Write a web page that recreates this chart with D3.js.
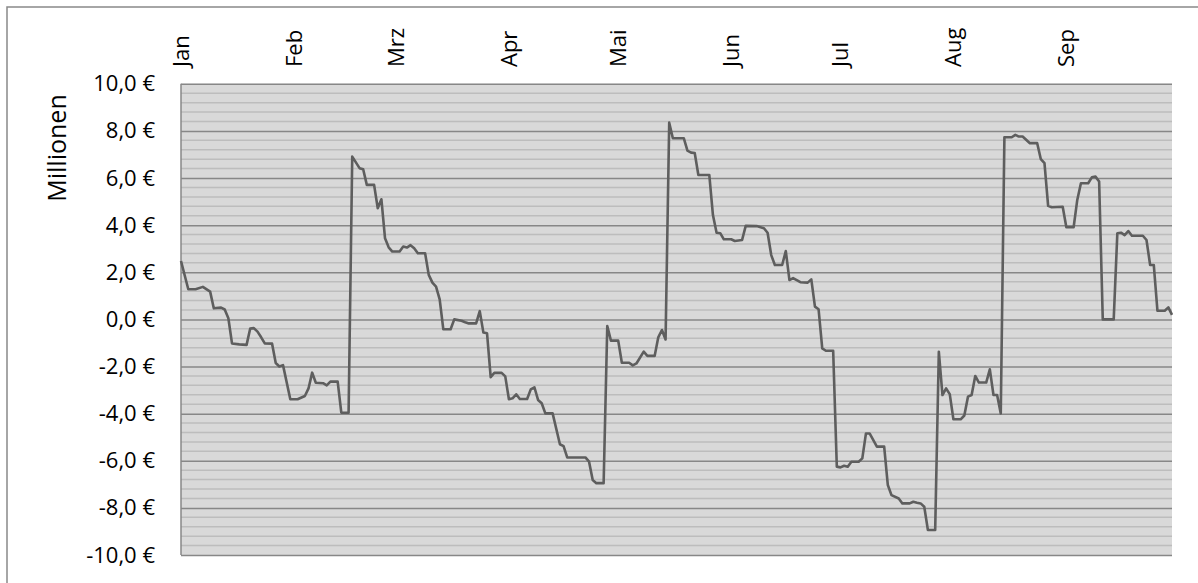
<!DOCTYPE html>
<html>
<head>
<meta charset="utf-8">
<script src="https://cdn.jsdelivr.net/npm/d3@7"></script>
<style>
  body { margin: 0; background: #fff; }
  svg { display: block; font-family: "Open Sans", sans-serif; }
</style>
</head>
<body>
<div id="chart"></div>
<script>
// month labels on the top axis
var monthLabels = ["Jan", "Feb", "Mrz", "Apr", "Mai", "Jun", "Jul", "Aug", "Sep"];
// y axis ticks (Millionen)
var yTicks = [10, 8, 6, 4, 2, 0, -2, -4, -6, -8, -10];
// day offsets from 1 Jan 2014 (weekends carry friday's value)
var dayOfYear = [0, 2, 4, 6, 8, 9, 11, 12, 13, 14, 16, 18, 19, 20, 21, 22, 23, 25, 26, 27, 28, 30, 32, 34, 35, 36, 37, 39, 40, 41, 43, 44, 46,
  47, 49, 50, 51, 53, 54, 55, 56, 57, 58, 60, 61, 62, 63, 64, 65, 67, 68, 69, 70, 71, 72, 74, 75, 77, 78, 79, 81, 82, 83, 84, 85, 86, 88, 89,
  90, 91, 92, 93, 95, 96, 97, 98, 99, 100, 102, 104, 105, 106, 111, 112, 113, 114, 116,
  117, 118, 120, 121, 123, 124, 125, 127, 128, 130, 131, 132, 133,
  134, 135, 138, 139, 140, 141, 142, 145, 146, 147, 148, 149, 151, 152, 154, 155, 158, 160, 161, 162, 163, 165, 166, 167, 168, 170, 172, 173, 174, 175, 176, 177, 179,
  180, 181, 182, 183, 184, 186, 187, 188, 189, 191, 193, 194, 195, 197, 198, 200, 201, 202, 203, 204, 205, 207,
  208, 209, 210, 211, 212, 214, 215, 216, 217, 218, 219, 221, 222, 223, 224, 225,
  226, 228, 229, 230, 231, 233, 235, 236, 237, 238, 239, 242, 243, 245, 246, 247, 249, 250, 251, 252, 253, 256,
  257, 258, 259, 260, 261, 264, 265, 266, 267, 268, 270, 271, 272];
// saldo in Mio. EUR
var values = [2.48, 1.28, 1.28, 1.38, 1.18, 0.47, 0.5, 0.42, 0.05, -1.02, -1.06, -1.08, -0.39, -0.37, -0.52, -0.76, -1.02, -1.03, -1.85, -2.0, -1.94, -3.39, -3.39, -3.25, -2.93, -2.26, -2.69, -2.71, -2.8, -2.64, -2.64, -3.96, -3.96,
  6.91, 6.42, 6.37, 5.71, 5.71, 4.72, 5.1, 3.44, 3.06, 2.88, 2.88, 3.09, 3.05, 3.15, 3.02, 2.81, 2.81, 1.89, 1.56, 1.39, 0.85, -0.42, -0.42, 0.0, -0.06, -0.12, -0.17, -0.17, 0.35, -0.56, -0.59, -2.45, -2.27, -2.27, -2.42,
  -3.39, -3.35, -3.18, -3.38, -3.38, -2.97, -2.88, -3.42, -3.56, -3.99, -3.99, -5.3, -5.38, -5.86, -5.86, -6.04, -6.82, -6.95, -6.95,
  -0.28, -0.9, -0.9, -1.84, -1.84, -1.95, -1.87, -1.37, -1.55, -1.55, -0.76, -0.45, -0.85,
  8.35, 7.69, 7.69, 7.16, 7.08, 7.06, 6.13, 6.13, 4.43, 3.68, 3.66, 3.4, 3.4, 3.33, 3.37, 3.97, 3.96, 3.87, 3.68, 2.73, 2.31, 2.31, 2.9, 1.67, 1.75, 1.58, 1.56, 1.7, 0.54, 0.43, -1.23, -1.33, -1.33,
  -6.25, -6.28, -6.21, -6.25, -6.04, -6.04, -5.9, -4.84, -4.84, -5.4, -5.4, -7.03, -7.46, -7.6, -7.81, -7.81, -7.74, -7.78, -7.81, -7.95, -8.94, -8.94,
  -1.37, -3.21, -2.93, -3.17, -4.24, -4.24, -4.08, -3.28, -3.21, -2.4, -2.68, -2.68, -2.12, -3.21, -3.21, -3.99,
  7.73, 7.73, 7.83, 7.76, 7.76, 7.48, 7.48, 6.8, 6.63, 4.82, 4.76, 4.78, 3.91, 3.91, 5.07, 5.78, 5.78, 6.03, 6.06, 5.85, 0.0, 0.0,
  3.66, 3.68, 3.58, 3.75, 3.55, 3.55, 3.37, 2.31, 2.31, 0.37, 0.37, 0.51, 0.19];

(function() {
  var width = 1198, height = 583;
  var plotLeft = 181, plotRight = 1172, plotTop = 83.8, plotBottom = 555;

  var start = new Date(2014, 0, 1);
  var end = new Date(2014, 8, 30);
  var data = dayOfYear.map(function(d, i) {
    return {date: d3.timeDay.offset(start, d), value: values[i]};
  });

  var svg = d3.select("#chart").append("svg")
    .attr("width", width)
    .attr("height", height);

  // chart frame (runs off the right and bottom edge)
  svg.append("rect")
    .attr("x", 7).attr("y", 7)
    .attr("width", 1300).attr("height", 700)
    .attr("fill", "#fff")
    .attr("stroke", "#898989")
    .attr("stroke-width", 1.5);

  var x = d3.scaleTime().domain([start, end]).range([plotLeft, plotRight]);
  var y = d3.scaleLinear().domain([-10, 10]).range([plotBottom, plotTop]);

  svg.append("rect")
    .attr("x", plotLeft).attr("y", plotTop)
    .attr("width", plotRight - plotLeft).attr("height", plotBottom - plotTop)
    .attr("fill", "#d9d9d9");

  // minor gridlines every 0.4
  var minor = d3.range(-25, 26).map(function(k) { return k * 0.4; })
    .filter(function(v) { return Math.round(v * 10) % 20 !== 0; });
  svg.append("g").selectAll("line")
    .data(minor)
    .enter().append("line")
    .attr("x1", plotLeft).attr("x2", plotRight)
    .attr("y1", function(d) { return y(d); })
    .attr("y2", function(d) { return y(d); })
    .attr("stroke", "#bdbdbd")
    .attr("stroke-width", 1.5);

  var locale = d3.formatLocale({decimal: ",", thousands: ".", grouping: [3], currency: ["", " €"], minus: "-"});
  var fmt = locale.format(".1f");

  var yAxis = svg.append("g")
    .attr("transform", "translate(" + plotLeft + ",0)")
    .call(d3.axisLeft(y).tickValues(yTicks).tickSize(-(plotRight - plotLeft)).tickPadding(26)
      .tickFormat(function(d) { return fmt(d) + " €"; }));
  yAxis.select(".domain").remove();
  yAxis.selectAll(".tick line")
    .attr("stroke", "#878787")
    .attr("stroke-width", 1.5);
  yAxis.selectAll(".tick text")
    .attr("fill", "#000")
    .attr("font-size", "22px")
    .attr("font-family", "Open Sans, sans-serif");

  // left axis line
  svg.append("line")
    .attr("x1", plotLeft).attr("x2", plotLeft)
    .attr("y1", plotTop).attr("y2", plotBottom)
    .attr("stroke", "#878787")
    .attr("stroke-width", 1.5);

  // month labels on top
  var months = d3.timeMonth.range(start, d3.timeDay.offset(end, 1));
  svg.append("g").selectAll("text")
    .data(months)
    .enter().append("text")
    .attr("transform", function(d) { return "translate(" + x(d) + ",67) rotate(-90)"; })
    .attr("dy", "0.35em")
    .attr("text-anchor", "start")
    .attr("font-size", "22px")
    .attr("fill", "#000")
    .text(function(d, i) { return monthLabels[i]; });

  svg.append("text")
    .attr("transform", "translate(57,148) rotate(-90)")
    .attr("dy", "0.35em")
    .attr("text-anchor", "middle")
    .attr("font-size", "25px")
    .attr("fill", "#000")
    .text("Millionen");

  var line = d3.line()
    .x(function(d) { return x(d.date); })
    .y(function(d) { return y(d.value); });

  svg.append("path")
    .datum(data)
    .attr("d", line)
    .attr("fill", "none")
    .attr("stroke", "#5e5e5e")
    .attr("stroke-width", 2.6)
    .attr("stroke-linejoin", "round");
})();
</script>
</body>
</html>
